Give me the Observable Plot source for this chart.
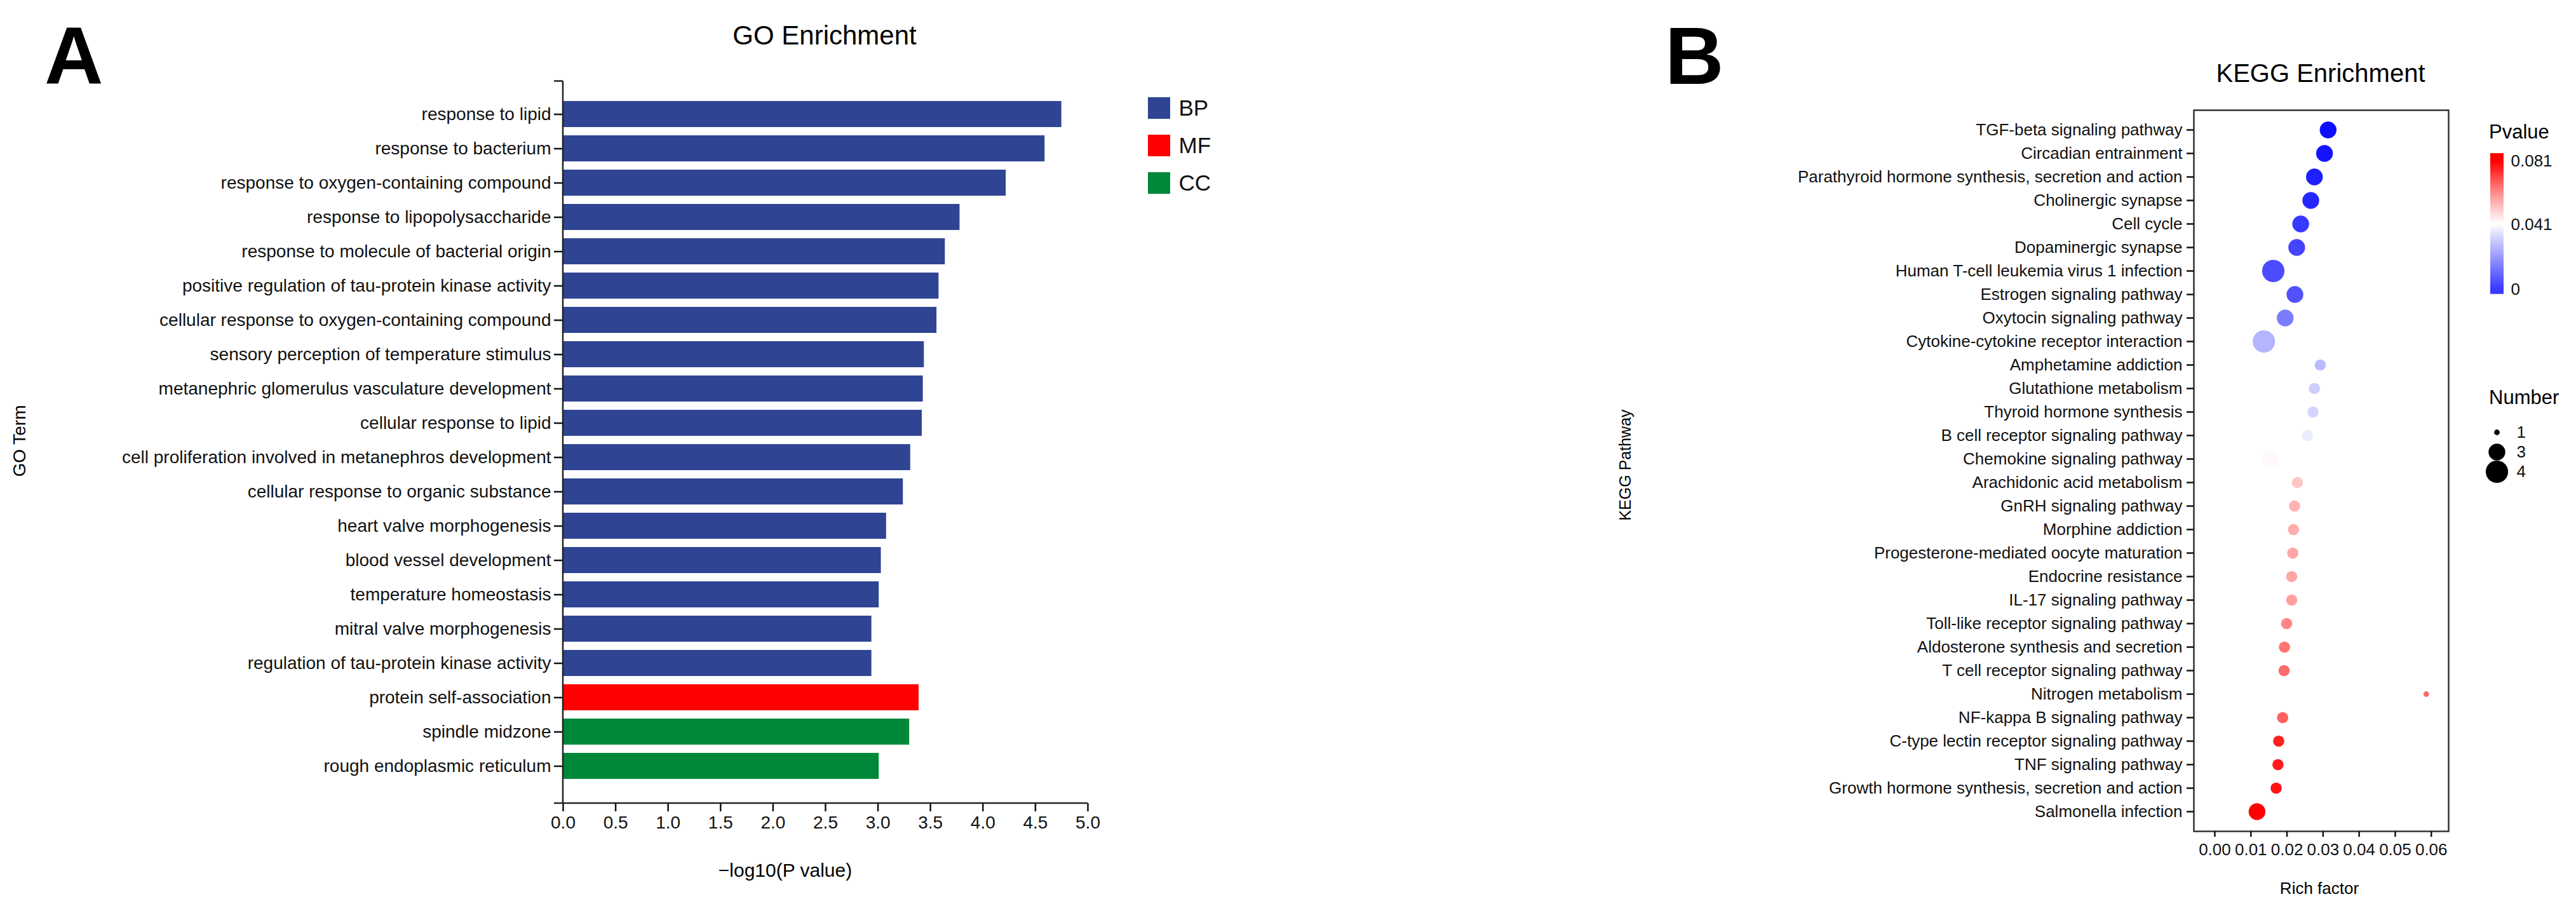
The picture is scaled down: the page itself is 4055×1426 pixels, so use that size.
<!DOCTYPE html>
<html><head><meta charset="utf-8">
<script src="https://cdn.jsdelivr.net/npm/d3@7"></script>
<script src="https://cdn.jsdelivr.net/npm/@observablehq/plot@0.6"></script>
<style>
html,body{margin:0;padding:0;background:#fff;overflow:hidden;}
#page{position:relative;width:4055px;height:1426px;background:#fff;}
#page > *{position:absolute;}
</style></head><body><div id="page"></div>
<script>
// ---------- Panel A data (GO) ----------
const goTerms = [
  "response to lipid",
  "response to bacterium",
  "response to oxygen-containing compound",
  "response to lipopolysaccharide",
  "response to molecule of bacterial origin",
  "positive regulation of tau-protein kinase activity",
  "cellular response to oxygen-containing compound",
  "sensory perception of temperature stimulus",
  "metanephric glomerulus vasculature development",
  "cellular response to lipid",
  "cell proliferation involved in metanephros development",
  "cellular response to organic substance",
  "heart valve morphogenesis",
  "blood vessel development",
  "temperature homeostasis",
  "mitral valve morphogenesis",
  "regulation of tau-protein kinase activity",
  "protein self-association",
  "spindle midzone",
  "rough endoplasmic reticulum"
];
const goValues = [4.75, 4.59, 4.22, 3.78, 3.64, 3.58, 3.56, 3.44, 3.43, 3.42,
                  3.31, 3.24, 3.08, 3.03, 3.01, 2.94, 2.94, 3.39, 3.30, 3.01];
const goCategories = ["BP","BP","BP","BP","BP","BP","BP","BP","BP","BP",
                      "BP","BP","BP","BP","BP","BP","BP","MF","CC","CC"];
const goCategoryNames = ["BP", "MF", "CC"];
const goCategoryColors = ["#2F4594", "#FF0000", "#00883A"];
const goTicks = [0, 0.5, 1, 1.5, 2, 2.5, 3, 3.5, 4, 4.5, 5];

// ---------- Panel B data (KEGG) ----------
const keggPathways = [
  "TGF-beta signaling pathway",
  "Circadian entrainment",
  "Parathyroid hormone synthesis, secretion and action",
  "Cholinergic synapse",
  "Cell cycle",
  "Dopaminergic synapse",
  "Human T-cell leukemia virus 1 infection",
  "Estrogen signaling pathway",
  "Oxytocin signaling pathway",
  "Cytokine-cytokine receptor interaction",
  "Amphetamine addiction",
  "Glutathione metabolism",
  "Thyroid hormone synthesis",
  "B cell receptor signaling pathway",
  "Chemokine signaling pathway",
  "Arachidonic acid metabolism",
  "GnRH signaling pathway",
  "Morphine addiction",
  "Progesterone-mediated oocyte maturation",
  "Endocrine resistance",
  "IL-17 signaling pathway",
  "Toll-like receptor signaling pathway",
  "Aldosterone synthesis and secretion",
  "T cell receptor signaling pathway",
  "Nitrogen metabolism",
  "NF-kappa B signaling pathway",
  "C-type lectin receptor signaling pathway",
  "TNF signaling pathway",
  "Growth hormone synthesis, secretion and action",
  "Salmonella infection"
];
const keggRichFactor = [0.0314, 0.0304, 0.0276, 0.0266, 0.0238, 0.0227, 0.0162, 0.0222, 0.0195, 0.0136,
                        0.0292, 0.0276, 0.0272, 0.0257, 0.0155, 0.0229, 0.0221, 0.0218, 0.0216, 0.0213,
                        0.0213, 0.0199, 0.0193, 0.0192, 0.0586, 0.0188, 0.0177, 0.0175, 0.0170, 0.0117];
const keggPvalue = [0.002, 0.003, 0.005, 0.006, 0.009, 0.011, 0.012, 0.013, 0.020, 0.029,
                    0.030, 0.033, 0.034, 0.038, 0.042, 0.050, 0.053, 0.054, 0.055, 0.055,
                    0.056, 0.060, 0.063, 0.064, 0.065, 0.066, 0.076, 0.077, 0.078, 0.081];
const keggNumber = [3, 3, 3, 3, 3, 3, 4, 3, 3, 4,
                    2, 2, 2, 2, 3, 2, 2, 2, 2, 2,
                    2, 2, 2, 2, 1, 2, 2, 2, 2, 3];
const keggTicks = [0, 0.01, 0.02, 0.03, 0.04, 0.05, 0.06];
const pvalueLegendTicks = [0, 0.041, 0.081];
const numberLegendValues = [1, 3, 4];

// ---------- shared ----------
const FONT = '"Liberation Sans", Arial, Helvetica, sans-serif';
const baseStyle = {fontFamily: FONT, background: "transparent", color: "#111", overflow: "visible"};
const page = document.getElementById("page");
function place(node, left, top) { node.style.left = left + "px"; node.style.top = top + "px"; node.style.maxWidth = "none"; page.appendChild(node); }

const goColor = {domain: goCategoryNames, range: goCategoryColors};
const pColor = {type: "linear", domain: [0, 0.041, 0.081], range: ["#0000FF", "#FFFFFF", "#FF0000"], interpolate: "rgb", clamp: true};
const numR = {type: "linear", domain: [0, 4], range: [0, 17.6]};

// ---------- Panel A plot ----------
const goData = goTerms.map((term, i) => ({term, value: goValues[i], category: goCategories[i]}));
const GO_TICK = 14;
function goAxisLines(index, scales, values, dim) {
  const x0 = scales.x(0);
  const bottom = dim.height - dim.marginBottom;
  const g = d3.create("svg:g").attr("stroke", "#222").attr("stroke-width", 2.5).attr("fill", "none");
  g.append("line").attr("x1", x0).attr("x2", x0).attr("y1", dim.marginTop).attr("y2", bottom);
  g.append("line").attr("x1", x0 - GO_TICK).attr("x2", scales.x(5)).attr("y1", bottom).attr("y2", bottom);
  g.append("line").attr("x1", x0 - GO_TICK).attr("x2", x0).attr("y1", dim.marginTop).attr("y2", dim.marginTop);
  return g.node();
}
const goPlot = Plot.plot({
  width: 1760, height: 1426,
  marginLeft: 886, marginRight: 48, marginTop: 127.5, marginBottom: 162,
  style: baseStyle,
  x: {domain: [0, 5]},
  y: {domain: goTerms, paddingInner: 0.25, paddingOuter: 0.125, insetTop: 21, insetBottom: 29},
  color: goColor,
  marks: [
    Plot.barX(goData, {x: "value", y: "term", fill: "category"}),
    Plot.axisX({ticks: goTicks, tickFormat: d3.format(".1f"), tickSize: 13, tickPadding: 7, fontSize: 28, strokeWidth: 2.5, label: null}),
    Plot.axisY({tickSize: GO_TICK, tickPadding: 5, fontSize: 28, strokeWidth: 2.5, label: null}),
    goAxisLines
  ]
});
place(goPlot, 0, 0);

// GO legend
const goLegend = Plot.plot({
  width: 140, height: 177, margin: 0,
  style: baseStyle,
  x: {type: "band", domain: ["swatch"], range: [0, 35], padding: 0, axis: null},
  y: {type: "band", domain: goCategoryNames, range: [0, 177], paddingInner: 0.424, paddingOuter: 0.212, axis: null},
  color: goColor,
  marks: [
    Plot.cell(goCategoryNames, {x: () => "swatch", y: d => d, fill: d => d, inset: 0}),
    Plot.text(goCategoryNames, {y: d => d, text: d => d, frameAnchor: "left", dx: 48, textAnchor: "start", fontSize: 35, fill: "#111"})
  ]
});
place(goLegend, 1807, 139.5);

// ---------- Panel B plot ----------
const keggData = keggPathways.map((pathway, i) => ({pathway, rich: keggRichFactor[i], pvalue: keggPvalue[i], number: keggNumber[i]}));
const keggPlot = Plot.plot({
  width: 1655, height: 1426,
  marginLeft: 1053, marginRight: 201, marginTop: 173, marginBottom: 118,
  style: baseStyle,
  x: {domain: [-0.0058, 0.0648]},
  y: {type: "point", domain: keggPathways, padding: 0.5},
  r: numR,
  color: pColor,
  marks: [
    Plot.dot(keggData, {x: "rich", y: "pathway", r: "number", fill: "pvalue"}),
    Plot.frame({stroke: "#333", strokeWidth: 2.5}),
    Plot.axisX({ticks: keggTicks, tickFormat: d3.format(".2f"), tickSize: 9, tickPadding: 10, fontSize: 26, strokeWidth: 2.5, label: null}),
    Plot.axisY({tickSize: 11, tickPadding: 7, fontSize: 26, strokeWidth: 2.5, label: null})
  ]
});
place(keggPlot, 2400, 0);

// Pvalue colorbar
const cbSamples = d3.range(-0.0028, 0.0858, 0.0004);
const cbPlot = Plot.plot({
  width: 155, height: 300, margin: 0,
  style: baseStyle,
  x: {domain: [0, 1], range: [20, 41], axis: null},
  y: {domain: [0, 0.081], range: [275, 73], axis: null},
  color: pColor,
  marks: [
    Plot.rect(cbSamples, {x1: 0, x2: 1, y1: d => d - 0.00021, y2: d => d + 0.00021, fill: d => d}),
    Plot.text(pvalueLegendTicks, {x: 1, y: d => d, text: d => d === 0 ? "0" : d3.format(".3f")(d), dx: 11, textAnchor: "start", fontSize: 26, fill: "#111"})
  ]
});
place(cbPlot, 3900, 180);

// Number legend
const numPlot = Plot.plot({
  width: 155, height: 180, margin: 0,
  style: baseStyle,
  y: {type: "point", domain: numberLegendValues, range: [43, 138], axis: null},
  r: numR,
  marks: [
    Plot.dot(numberLegendValues, {y: d => d, r: d => d, fill: "#000", frameAnchor: "left", dx: 30}),
    Plot.text(numberLegendValues, {y: d => d, text: d => String(d), frameAnchor: "left", dx: 61, textAnchor: "start", fontSize: 26, fill: "#111"})
  ]
});
place(numPlot, 3900, 620);

// ---------- titles and axis labels ----------
const overlay = d3.create("svg").attr("width", 4055).attr("height", 1426)
  .style("left", "0px").style("top", "0px").style("pointer-events", "none")
  .attr("font-family", FONT).attr("fill", "#000");
const texts = [
  {t: "A", x: 70, y: 132, size: 128, weight: "bold", anchor: "start"},
  {t: "B", x: 2621, y: 132, size: 128, weight: "bold", anchor: "start"},
  {t: "GO Enrichment", x: 1298, y: 69.5, size: 42, anchor: "middle"},
  {t: "\u2212log10(P value)", x: 1236, y: 1380, size: 30, anchor: "middle"},
  {t: "KEGG Enrichment", x: 3653, y: 129, size: 40, anchor: "middle"},
  {t: "Rich factor", x: 3651, y: 1407, size: 26, anchor: "middle"},
  {t: "Pvalue", x: 3918, y: 218, size: 31, anchor: "start"},
  {t: "Number", x: 3918, y: 636, size: 31, anchor: "start"}
];
for (const d of texts) {
  overlay.append("text").attr("x", d.x).attr("y", d.y).attr("font-size", d.size)
    .attr("font-weight", d.weight || "normal").attr("text-anchor", d.anchor).text(d.t);
}
overlay.append("text").attr("transform", "translate(40,694) rotate(-90)").attr("font-size", 28).attr("text-anchor", "middle").text("GO Term");
overlay.append("text").attr("transform", "translate(2567,732) rotate(-90)").attr("font-size", 25).attr("text-anchor", "middle").text("KEGG Pathway");
page.appendChild(overlay.node());
</script>
</body></html>
